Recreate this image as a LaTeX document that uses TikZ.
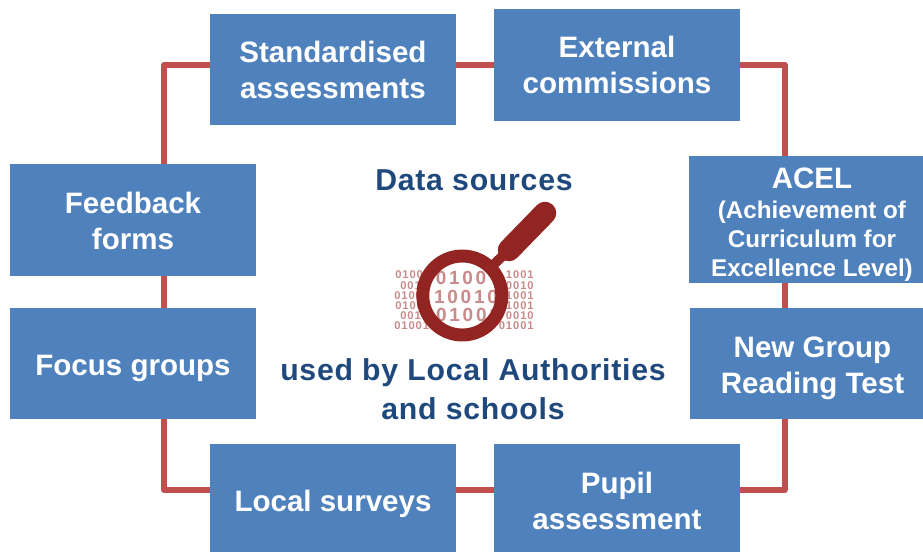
\documentclass[tikz,border=0pt]{standalone}
\usepackage{fontspec}
\setmainfont{Liberation Sans}
\newfontfamily\titlefont[LetterSpace=2.5]{Liberation Sans}
\newfontfamily\smalldigitfont[LetterSpace=8]{Liberation Sans}
\newfontfamily\lensdigitfont[LetterSpace=14.5]{Liberation Sans}
\newcommand{\lowered}[1]{\rule{0pt}{#1pt}}
\newcommand{\pad}{\hspace*{8.5pt}}
\definecolor{boxblue}{HTML}{4F81BD}
\definecolor{linkred}{HTML}{C0504D}
\definecolor{titleblue}{HTML}{1F497D}
\definecolor{lensred}{HTML}{922522}
\definecolor{digitred}{HTML}{C98B89}
\tikzset{
    sourcebox/.style={draw=none, fill=boxblue, text=white, align=center, inner sep=0pt, minimum width=6.15cm, minimum height=2.78cm, font=\bfseries\fontsize{21}{25.6}\selectfont},
    link/.style={draw=linkred, line width=3.6pt},
    title/.style={text=titleblue, align=center, font=\titlefont\bfseries\fontsize{21.5}{27.5}\selectfont},
    smalldigits/.style={text=digitred, inner sep=0pt, font=\smalldigitfont\bfseries\fontsize{8}{8}\selectfont},
    lensdigits/.style={text=digitred, inner sep=0pt, font=\lensdigitfont\bfseries\fontsize{13.5}{14}\selectfont},
}
\begin{document}
\begin{tikzpicture}[x=0.025cm, y=-0.025cm]
    \useasboundingbox (0, 0) rectangle (923, 552);

    \coordinate (cornerNW) at (164, 65);
    \coordinate (cornerNE) at (785, 65);
    \coordinate (cornerSW) at (164, 490);
    \coordinate (cornerSE) at (785, 490);

    \node[sourcebox] (standardised) at (333, 69.5) {Standardised\\assessments};
    \node[sourcebox] (external) at (617, 65) {External\\commissions};
    \node[sourcebox] (feedback) at (133, 220) {\lowered{16.7}Feedback\\forms};
    \node[sourcebox] (focus) at (133, 363.5) {\lowered{22}Focus groups};
    \node[sourcebox, minimum height=2.7cm] (local) at (333, 498) {\lowered{23.8}Local surveys};
    \node[sourcebox, minimum height=2.7cm] (pupil) at (617, 498) {\lowered{19.6}Pupil\\assessment};
    \node[sourcebox, minimum width=5.85cm, minimum height=3.18cm, font=\bfseries\fontsize{17.2}{20.6}\selectfont] (acel) at (806, 219.5) {\pad\lowered{22}{\fontsize{21}{25.6}\selectfont ACEL}\\[1.4pt]\pad(Achievement of\\\pad Curriculum for\\\pad Excellence Level)};
    \node[sourcebox, minimum width=5.83cm] (newgroup) at (806.5, 363.5) {\pad\lowered{22}New Group\\\pad Reading Test};

    \draw[link, line join=round] (standardised.west |- cornerNW) -- (cornerNW) -- (cornerNW |- feedback.north);
    \draw[link] (standardised.east |- cornerNW) -- (external.west |- cornerNW);
    \draw[link, line join=round] (external.east |- cornerNE) -- (cornerNE) -- (cornerNE |- acel.north);
    \draw[link] (cornerNE |- acel.south) -- (cornerNE |- newgroup.north);
    \draw[link, line join=round] (cornerSE |- newgroup.south) -- (cornerSE) -- (pupil.east |- cornerSE);
    \draw[link] (pupil.west |- cornerSE) -- (local.east |- cornerSE);
    \draw[link, line join=round] (local.west |- cornerSW) -- (cornerSW) -- (cornerSW |- focus.south);
    \draw[link] (cornerSW |- focus.north) -- (cornerSW |- feedback.south);

    \node[title] (sources) at (474, 180) {Data sources};
    \node[title] (used) at (473, 389) {used by Local Authorities\\and schools};

    \node[smalldigits, anchor=west] (left1) at (395, 275) {0100};
    \node[smalldigits, anchor=west] (left2) at (400, 286) {001};
    \node[smalldigits, anchor=west] (left3) at (394, 296) {0100};
    \node[smalldigits, anchor=west] (left4) at (395, 306) {0100};
    \node[smalldigits, anchor=west] (left5) at (400, 316) {001};
    \node[smalldigits, anchor=west] (left6) at (394, 326) {01001};
    \node[smalldigits, anchor=east] (right1) at (534, 275) {1001};
    \node[smalldigits, anchor=east] (right2) at (534, 286) {0010};
    \node[smalldigits, anchor=east] (right3) at (534, 296) {1001};
    \node[smalldigits, anchor=east] (right4) at (534, 306) {1001};
    \node[smalldigits, anchor=east] (right5) at (534, 316) {0010};
    \node[smalldigits, anchor=east] (right6) at (534, 326) {01001};

    \fill[white] (462.3, 295.5) circle[radius=39];
    \begin{scope}
        \clip (462.3, 295.5) circle[radius=36];
        \node[lensdigits] (lens1) at (461, 278) {0100};
        \node[lensdigits] (lens2) at (466, 297) {10010};
        \node[lensdigits] (lens3) at (468, 315) {01001};
    \end{scope}

    \draw[lensred, line width=9.2pt] (462.3, 295.5) circle[radius=39.5];
    \draw[lensred, line width=7pt] (490, 268) -- (510, 249);
    \draw[lensred, line width=16pt, line cap=round] (509, 250) -- (545, 213);
\end{tikzpicture}
\end{document}
